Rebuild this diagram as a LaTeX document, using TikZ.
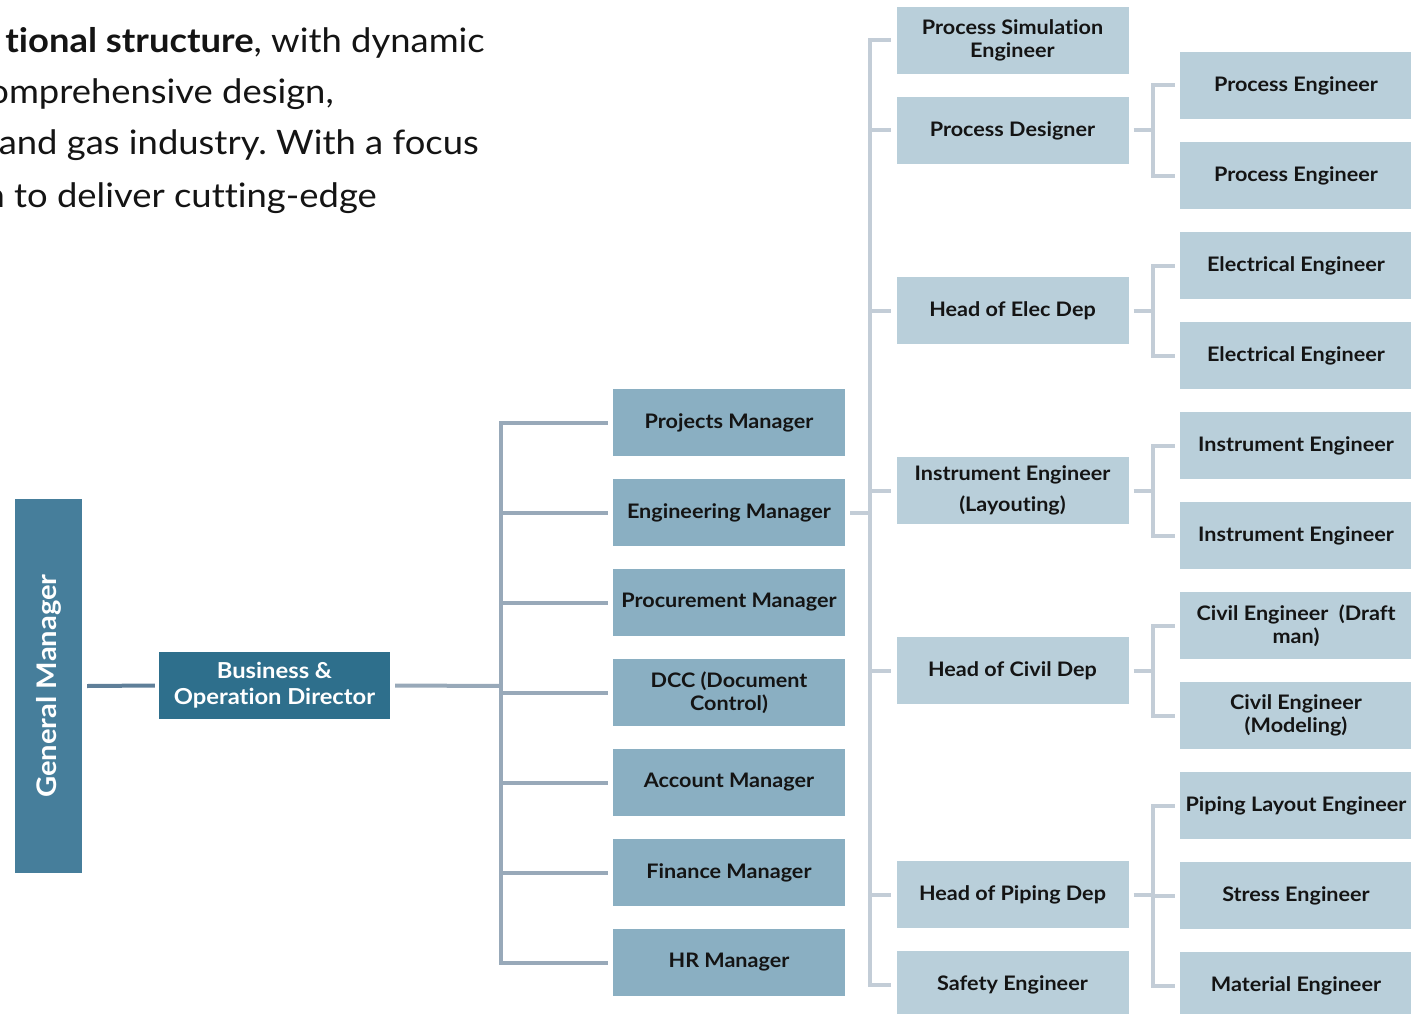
\documentclass[tikz,border=0pt]{standalone}
\usepackage{fontspec}
\setmainfont{Lato}[FakeStretch=1.08,Ligatures=NoCommon]
\frenchspacing
\definecolor{ink}{HTML}{141414}
\definecolor{gmblue}{HTML}{467E9B}
\definecolor{dirblue}{HTML}{2E6F8C}
\definecolor{midblue}{HTML}{8AAFC2}
\definecolor{paleblue}{HTML}{B9CFDA}
\definecolor{linkA}{HTML}{98A9B9}
\definecolor{linkB}{HTML}{C3CDD7}
\definecolor{linkGM}{HTML}{5F7F99}
\begin{document}
\begin{tikzpicture}[x=1pt,y=-1pt,
    box/.style={rectangle,inner sep=0pt,minimum width=232pt,minimum height=67pt,align=center,
        font=\bfseries\fontsize{20}{23.5}\selectfont,text=ink},
    mid/.style={box,fill=midblue},
    sub/.style={box,fill=paleblue},
    lnkA/.style={line width=4pt,draw=linkA},
    lnkB/.style={line width=4pt,draw=linkB},
    intro/.style={anchor=base east,inner sep=0pt,text=ink,font=\fontsize{33.7}{40}\selectfont}]
    \useasboundingbox (0,0) rectangle (1411,1014);
    \clip (0,0) rectangle (1411,1014);
    % text cut off at the left edge
    \node[intro] (t1) at (485,53) {\textbf{tional structure}, with dynamic};
    \node[intro] (t2) at (334,104) {omprehensive design,};
    \node[intro] (t3) at (479,155) {and gas industry. With a focus};
    \node[intro] (t4) at (377,207) {n to deliver cutting-edge};
    % top of the chart
    \node[rectangle,fill=gmblue,rotate=90,minimum width=374pt,minimum height=67pt,inner sep=0pt,
        text=white,font=\bfseries\fontsize{27}{32}\selectfont] (GM) at (48.5,686) {General Manager};
    \node[rectangle,fill=dirblue,minimum width=231pt,minimum height=67pt,inner sep=0pt,align=center,
        text=white,font=\bfseries\fontsize{22}{26}\selectfont] (BOD) at (274.5,685.5) {Business \&\\Operation Director};
    \draw[line width=4pt,draw=linkGM] ([xshift=5pt]GM.south) -- ([xshift=-4pt]BOD.west);
    % managers
    \node[mid] (PM) at (729,422.5) {Projects Manager};
    \node[mid] (EM) at (729,512.5) {Engineering Manager};
    \node[mid] (PrM) at (729,602.5) {Procurement Manager};
    \node[mid] (DCC) at (729,692.5) {DCC (Document\\Control)};
    \node[mid] (AM) at (729,782.5) {Account Manager};
    \node[mid] (FM) at (729,872.5) {Finance Manager};
    \node[mid] (HR) at (729,962.5) {HR Manager};
    \coordinate (J1) at (501,686);
    \draw[lnkA] ([xshift=5pt]BOD.east) -- (J1);
    \draw[lnkA] (J1) |- ([xshift=-5pt]PM.west) (J1) |- ([xshift=-5pt]EM.west)
        (J1) |- ([xshift=-5pt]PrM.west) (J1) |- ([xshift=-5pt]DCC.west)
        (J1) |- ([xshift=-5pt]AM.west) (J1) |- ([xshift=-5pt]FM.west)
        (J1) |- ([xshift=-5pt]HR.west);
    % engineering
    \node[sub] (PSE) at (1012.5,40.5) {Process Simulation\\Engineer};
    \node[sub] (PD) at (1012.5,130.5) {Process Designer};
    \node[sub] (HE) at (1012.5,310.5) {Head of Elec Dep};
    \node[sub] (IL) at (1012.5,490.5) {Instrument Engineer\\[8pt](Layouting)};
    \node[sub] (HC) at (1012.5,670.5) {Head of Civil Dep};
    \node[sub] (HP) at (1012.5,894.5) {Head of Piping Dep};
    \node[sub] (SE) at (1012.5,984.5) {Safety Engineer};
    \coordinate (J2) at (870,512.5);
    \draw[lnkB] ([xshift=5pt]EM.east) -- (J2);
    \draw[lnkB] (J2) |- ([xshift=-5pt]PSE.west) (J2) |- ([xshift=-5pt]PD.west)
        (J2) |- ([xshift=-5pt]HE.west) (J2) |- ([xshift=-5pt]IL.west)
        (J2) |- ([xshift=-5pt]HC.west) (J2) |- ([xshift=-5pt]HP.west)
        (J2) |- ([xshift=-5pt]SE.west);
    % departments
    \node[sub] (PE1) at (1296,85.5) {Process Engineer};
    \node[sub] (PE2) at (1296,175.5) {Process Engineer};
    \node[sub] (EE1) at (1296,265.5) {Electrical Engineer};
    \node[sub] (EE2) at (1296,355.5) {Electrical Engineer};
    \node[sub] (IE1) at (1296,445.5) {Instrument Engineer};
    \node[sub] (IE2) at (1296,535.5) {Instrument Engineer};
    \node[sub] (CE1) at (1296,625.5) {Civil Engineer\ \ (Draft\\man)};
    \node[sub] (CE2) at (1296,715.5) {Civil Engineer\\(Modeling)};
    \node[sub] (PL) at (1296,805.5) {Piping Layout Engineer};
    \node[sub] (ST) at (1296,895.5) {Stress Engineer};
    \node[sub] (ME) at (1296,985.5) {Material Engineer};
    \coordinate (J3) at (1153,130.5);
    \coordinate (J4) at (1153,310.5);
    \coordinate (J5) at (1153,490.5);
    \coordinate (J6) at (1153,670.5);
    \coordinate (J7) at (1153,894.5);
    \draw[lnkB] ([xshift=5pt]PD.east) -- (J3) ([xshift=5pt]HE.east) -- (J4)
        ([xshift=5pt]IL.east) -- (J5) ([xshift=5pt]HC.east) -- (J6)
        ([xshift=5pt]HP.east) -- (J7);
    \draw[lnkB] (J3) |- ([xshift=-5pt]PE1.west) (J3) |- ([xshift=-5pt]PE2.west)
        (J4) |- ([xshift=-5pt]EE1.west) (J4) |- ([xshift=-5pt]EE2.west)
        (J5) |- ([xshift=-5pt]IE1.west) (J5) |- ([xshift=-5pt]IE2.west)
        (J6) |- ([xshift=-5pt]CE1.west) (J6) |- ([xshift=-5pt]CE2.west)
        (J7) |- ([xshift=-5pt]PL.west) (J7) |- ([xshift=-5pt]ST.west)
        (J7) |- ([xshift=-5pt]ME.west);
\end{tikzpicture}
\end{document}
